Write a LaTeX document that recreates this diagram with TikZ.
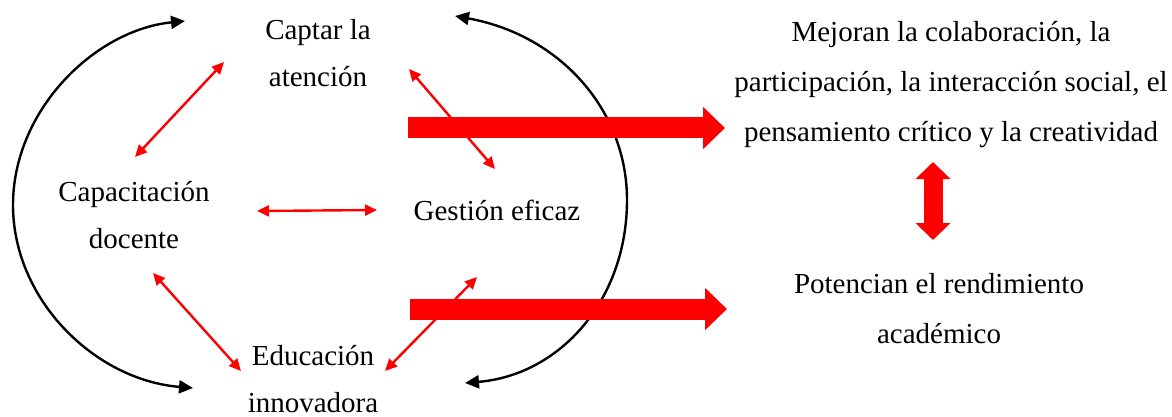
\documentclass[tikz,border=0pt]{standalone}
\usepackage{fontspec}
\setmainfont{Liberation Serif}
\usetikzlibrary{arrows.meta}
\begin{document}
\begin{tikzpicture}[x=1pt,y=-1pt,
  lbl/.style={inner sep=0pt, align=center, anchor=base, font=\fontsize{29}{47}\selectfont},
  rlbl/.style={inner sep=0pt, align=center, anchor=base, font=\fontsize{29}{50}\selectfont},
  thinred/.style={red, line width=2.4pt, {Triangle[length=12pt,width=11pt]}-{Triangle[length=12pt,width=11pt]}},
  blackarc/.style={black, line width=2.4pt, {Triangle[length=14pt,width=13pt]}-{Triangle[length=14pt,width=13pt]}},
  thickred/.style={red, line width=21pt, -{Triangle[length=22pt,width=41pt]}},
  vertred/.style={red, line width=19pt, {Triangle[length=17pt,width=34pt]}-{Triangle[length=17pt,width=34pt]}}]
\useasboundingbox (0,0) rectangle (1172,417);

% labels (anchor base = baseline of last line)
\node[lbl] (cap) at (318,87) {Captar la\\atención};
\node[lbl] (doc) at (134,248) {Capacitación\\docente};
\node[lbl] (ges) at (497,220) {Gestión eficaz};
\node[lbl] (edu) at (313,412) {Educación\\innovadora};
\node[rlbl] (mej) at (951,142) {Mejoran la colaboración, la\\participación, la interacción social, el\\pensamiento crítico y la creatividad};
\node[rlbl] (pot) at (939,343) {Potencian el rendimiento\\académico};

% coordinates of connector ends
\coordinate (a1) at (224,62);  \coordinate (a2) at (135,157);
\coordinate (b1) at (257,211); \coordinate (b2) at (377,210);
\coordinate (c1) at (153,273); \coordinate (c2) at (241,371);
\coordinate (d1) at (409,69);  \coordinate (d2) at (495,169);
\coordinate (e1) at (477,277); \coordinate (e2) at (385,371);
\coordinate (l1) at (185,21);  \coordinate (l2) at (193,388);
\coordinate (r1) at (455,16);  \coordinate (r2) at (465,383);
\coordinate (t1) at (408,128); \coordinate (t2) at (725,128);
\coordinate (u1) at (410,309); \coordinate (u2) at (727,309);
\coordinate (v1) at (933,162); \coordinate (v2) at (933,240);

% black arcs
\draw[blackarc] (l1) .. controls (95,30) and (13,110) .. (13,205) .. controls (13,300) and (95,380) .. (l2);
\draw[blackarc] (r1) .. controls (560,35) and (627,110) .. (627,200) .. controls (627,300) and (560,375) .. (r2);

% thick arrows
\draw[thickred] (t1) -- (t2);
\draw[thickred] (u1) -- (u2);
\draw[vertred] (v1) -- (v2);

% thin red double arrows
\draw[thinred] (a1) -- (a2);
\draw[thinred] (b1) -- (b2);
\draw[thinred] (c1) -- (c2);
\draw[thinred] (d1) -- (d2);
\draw[thinred] (e1) -- (e2);
\end{tikzpicture}
\end{document}
